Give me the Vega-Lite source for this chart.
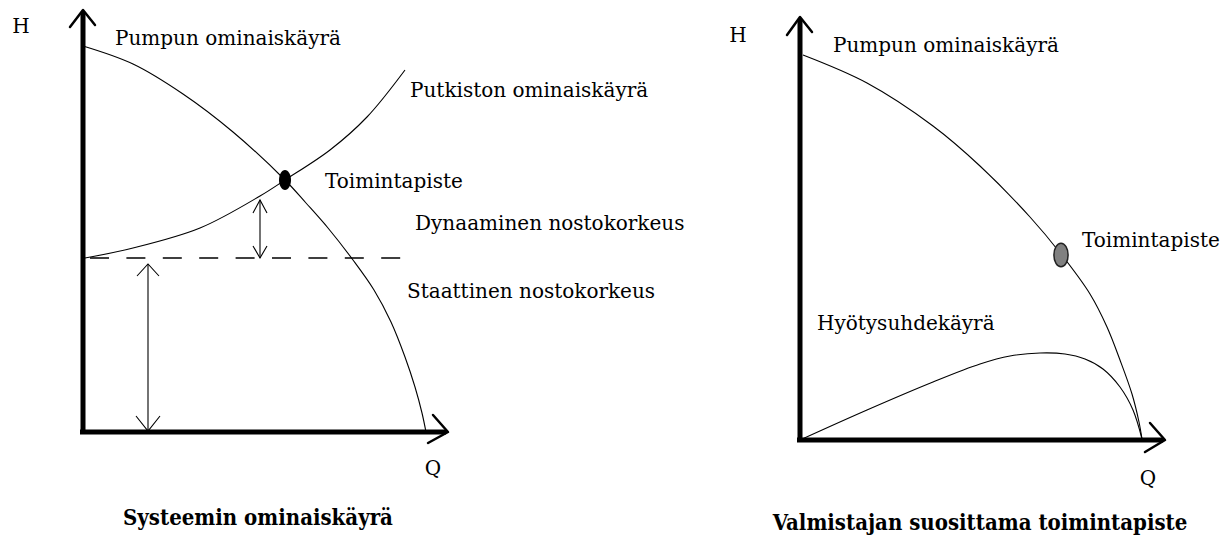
{
  "$schema": "https://vega.github.io/schema/vega-lite/v6.json",
  "width": 1225,
  "height": 537,
  "autosize": {"type": "fit", "contains": "padding"},
  "padding": 0,
  "background": "white",
  "config": {"view": {"stroke": null}},
  "datasets": {
    "axes": [
      {"g": "LY", "o": 1, "x": 83, "y": 432}, {"g": "LY", "o": 2, "x": 83, "y": 12},
      {"g": "LX", "o": 1, "x": 80, "y": 432}, {"g": "LX", "o": 2, "x": 446, "y": 432},
      {"g": "RY", "o": 1, "x": 800, "y": 440}, {"g": "RY", "o": 2, "x": 800, "y": 19},
      {"g": "RX", "o": 1, "x": 797, "y": 440}, {"g": "RX", "o": 2, "x": 1163, "y": 440}
    ],
    "heads": [
      {"g": "LYh", "o": 1, "x": 70, "y": 27}, {"g": "LYh", "o": 2, "x": 83, "y": 10}, {"g": "LYh", "o": 3, "x": 95, "y": 25},
      {"g": "LXh", "o": 1, "x": 433, "y": 415}, {"g": "LXh", "o": 2, "x": 448, "y": 432}, {"g": "LXh", "o": 3, "x": 428, "y": 443},
      {"g": "RYh", "o": 1, "x": 787, "y": 35}, {"g": "RYh", "o": 2, "x": 800, "y": 17}, {"g": "RYh", "o": 3, "x": 812, "y": 32},
      {"g": "RXh", "o": 1, "x": 1150, "y": 423}, {"g": "RXh", "o": 2, "x": 1165, "y": 440}, {"g": "RXh", "o": 3, "x": 1145, "y": 452}
    ],
    "curves": [
      {"g": "LP", "o": 1, "x": 83, "y": 46}, {"g": "LP", "o": 2, "x": 133, "y": 64}, {"g": "LP", "o": 3, "x": 183, "y": 94},
      {"g": "LP", "o": 4, "x": 233, "y": 132}, {"g": "LP", "o": 5, "x": 285, "y": 180},
      {"g": "LP", "o": 6, "x": 306, "y": 203}, {"g": "LP", "o": 7, "x": 328, "y": 228}, {"g": "LP", "o": 8, "x": 353, "y": 260},
      {"g": "LP", "o": 9, "x": 374, "y": 290}, {"g": "LP", "o": 10, "x": 391, "y": 322}, {"g": "LP", "o": 11, "x": 405, "y": 357},
      {"g": "LP", "o": 12, "x": 415, "y": 387}, {"g": "LP", "o": 13, "x": 422, "y": 413}, {"g": "LP", "o": 14, "x": 426, "y": 432},
      {"g": "LK", "o": 1, "x": 85, "y": 258}, {"g": "LK", "o": 2, "x": 133, "y": 248}, {"g": "LK", "o": 3, "x": 200, "y": 228},
      {"g": "LK", "o": 4, "x": 260, "y": 196}, {"g": "LK", "o": 5, "x": 285, "y": 180}, {"g": "LK", "o": 6, "x": 330, "y": 150},
      {"g": "LK", "o": 7, "x": 367, "y": 117}, {"g": "LK", "o": 8, "x": 405, "y": 70},
      {"g": "RP", "o": 1, "x": 803, "y": 55}, {"g": "RP", "o": 2, "x": 867, "y": 83}, {"g": "RP", "o": 3, "x": 933, "y": 126},
      {"g": "RP", "o": 4, "x": 980, "y": 166}, {"g": "RP", "o": 5, "x": 1030, "y": 217}, {"g": "RP", "o": 6, "x": 1061, "y": 254},
      {"g": "RP", "o": 7, "x": 1090, "y": 294}, {"g": "RP", "o": 8, "x": 1107, "y": 327}, {"g": "RP", "o": 9, "x": 1120, "y": 360},
      {"g": "RP", "o": 10, "x": 1132, "y": 394}, {"g": "RP", "o": 11, "x": 1139, "y": 422}, {"g": "RP", "o": 12, "x": 1142, "y": 439},
      {"g": "RE", "o": 1, "x": 800, "y": 440}, {"g": "RE", "o": 2, "x": 867, "y": 410}, {"g": "RE", "o": 3, "x": 933, "y": 382},
      {"g": "RE", "o": 4, "x": 980, "y": 364}, {"g": "RE", "o": 5, "x": 1010, "y": 356}, {"g": "RE", "o": 6, "x": 1040, "y": 353},
      {"g": "RE", "o": 7, "x": 1065, "y": 354}, {"g": "RE", "o": 8, "x": 1085, "y": 359}, {"g": "RE", "o": 9, "x": 1103, "y": 369},
      {"g": "RE", "o": 10, "x": 1120, "y": 387}, {"g": "RE", "o": 11, "x": 1133, "y": 410}, {"g": "RE", "o": 12, "x": 1142, "y": 439}
    ],
    "arrows": [
      {"g": "Ds", "o": 1, "x": 260, "y": 200}, {"g": "Ds", "o": 2, "x": 260, "y": 258},
      {"g": "Dt", "o": 1, "x": 253, "y": 213}, {"g": "Dt", "o": 2, "x": 260, "y": 200}, {"g": "Dt", "o": 3, "x": 267, "y": 213},
      {"g": "Db", "o": 1, "x": 253, "y": 246}, {"g": "Db", "o": 2, "x": 260, "y": 258}, {"g": "Db", "o": 3, "x": 267, "y": 246},
      {"g": "Ss", "o": 1, "x": 148, "y": 264}, {"g": "Ss", "o": 2, "x": 148, "y": 431},
      {"g": "St", "o": 1, "x": 137, "y": 276}, {"g": "St", "o": 2, "x": 148, "y": 264}, {"g": "St", "o": 3, "x": 159, "y": 276},
      {"g": "Sb", "o": 1, "x": 136, "y": 416}, {"g": "Sb", "o": 2, "x": 148, "y": 431}, {"g": "Sb", "o": 3, "x": 160, "y": 416}
    ],
    "dash": [
      {"g": "static", "o": 1, "x": 90, "y": 258}, {"g": "static", "o": 2, "x": 402, "y": 258}
    ],
    "labels": [
      {"t": "Pumpun ominaiskäyrä", "x": 115, "y": 45},
      {"t": "Putkiston ominaiskäyrä", "x": 410, "y": 97},
      {"t": "Toimintapiste", "x": 325, "y": 188},
      {"t": "Dynaaminen nostokorkeus", "x": 415, "y": 230},
      {"t": "Staattinen nostokorkeus", "x": 407, "y": 298},
      {"t": "Pumpun ominaiskäyrä", "x": 833, "y": 52},
      {"t": "Toimintapiste", "x": 1082, "y": 247},
      {"t": "Hyötysuhdekäyrä", "x": 817, "y": 330}
    ],
    "axisLabels": [
      {"t": "H", "x": 21, "y": 33}, {"t": "Q", "x": 433, "y": 475},
      {"t": "H", "x": 738, "y": 42}, {"t": "Q", "x": 1148, "y": 485}
    ],
    "titles": [
      {"t": "Systeemin ominaiskäyrä", "x": 258, "y": 525},
      {"t": "Valmistajan suosittama toimintapiste", "x": 980, "y": 530}
    ]
  },
  "encoding": {
    "x": {"field": "x", "type": "quantitative", "scale": {"domain": [0, 1225], "nice": false, "zero": false}, "axis": null},
    "y": {"field": "y", "type": "quantitative", "scale": {"domain": [0, 537], "nice": false, "zero": false, "reverse": true}, "axis": null}
  },
  "layer": [
    {
      "data": {"name": "axes"},
      "mark": {"type": "line", "color": "black", "strokeWidth": 5, "strokeCap": "butt"},
      "encoding": {"detail": {"field": "g"}, "order": {"field": "o"}}
    },
    {
      "data": {"name": "heads"},
      "mark": {"type": "line", "color": "black", "strokeWidth": 2.5, "strokeCap": "round", "strokeJoin": "round"},
      "encoding": {"detail": {"field": "g"}, "order": {"field": "o"}}
    },
    {
      "data": {"name": "curves"},
      "mark": {"type": "line", "color": "black", "strokeWidth": 1.1, "interpolate": "catmull-rom"},
      "encoding": {"detail": {"field": "g"}, "order": {"field": "o"}}
    },
    {
      "data": {"name": "arrows"},
      "mark": {"type": "line", "color": "black", "strokeWidth": 1.1},
      "encoding": {"detail": {"field": "g"}, "order": {"field": "o"}}
    },
    {
      "data": {"name": "dash"},
      "mark": {"type": "line", "color": "black", "strokeWidth": 1.3, "strokeDash": [19, 17.4]},
      "encoding": {"detail": {"field": "g"}, "order": {"field": "o"}}
    },
    {
      "data": {"values": [{"name": "Toimintapiste", "x": 285, "y": 180}]},
      "mark": {"type": "point", "shape": "M0,-1 A0.6,1 0 1,1 0,1 A0.6,1 0 1,1 0,-1 Z", "size": 400, "filled": true, "color": "black", "opacity": 1}
    },
    {
      "data": {"values": [{"name": "Toimintapiste", "x": 1061, "y": 255}]},
      "mark": {"type": "point", "shape": "M0,-1 A0.6,1 0 1,1 0,1 A0.6,1 0 1,1 0,-1 Z", "size": 560, "filled": true, "fill": "#808080", "stroke": "#222222", "strokeWidth": 1.5, "opacity": 1, "fillOpacity": 1, "strokeOpacity": 1}
    },
    {
      "data": {"name": "labels"},
      "mark": {"type": "text", "align": "left", "baseline": "alphabetic", "font": "DejaVu Serif", "fontSize": 20, "color": "black"},
      "encoding": {"text": {"field": "t"}}
    },
    {
      "data": {"name": "axisLabels"},
      "mark": {"type": "text", "align": "center", "baseline": "alphabetic", "font": "DejaVu Serif", "fontSize": 20, "color": "black"},
      "encoding": {"text": {"field": "t"}}
    },
    {
      "data": {"name": "titles"},
      "mark": {"type": "text", "align": "center", "baseline": "alphabetic", "font": "'DejaVu Serif Condensed', 'DejaVu Serif'", "fontWeight": "bold", "fontSize": 22, "color": "black"},
      "encoding": {"text": {"field": "t"}}
    }
  ]
}
